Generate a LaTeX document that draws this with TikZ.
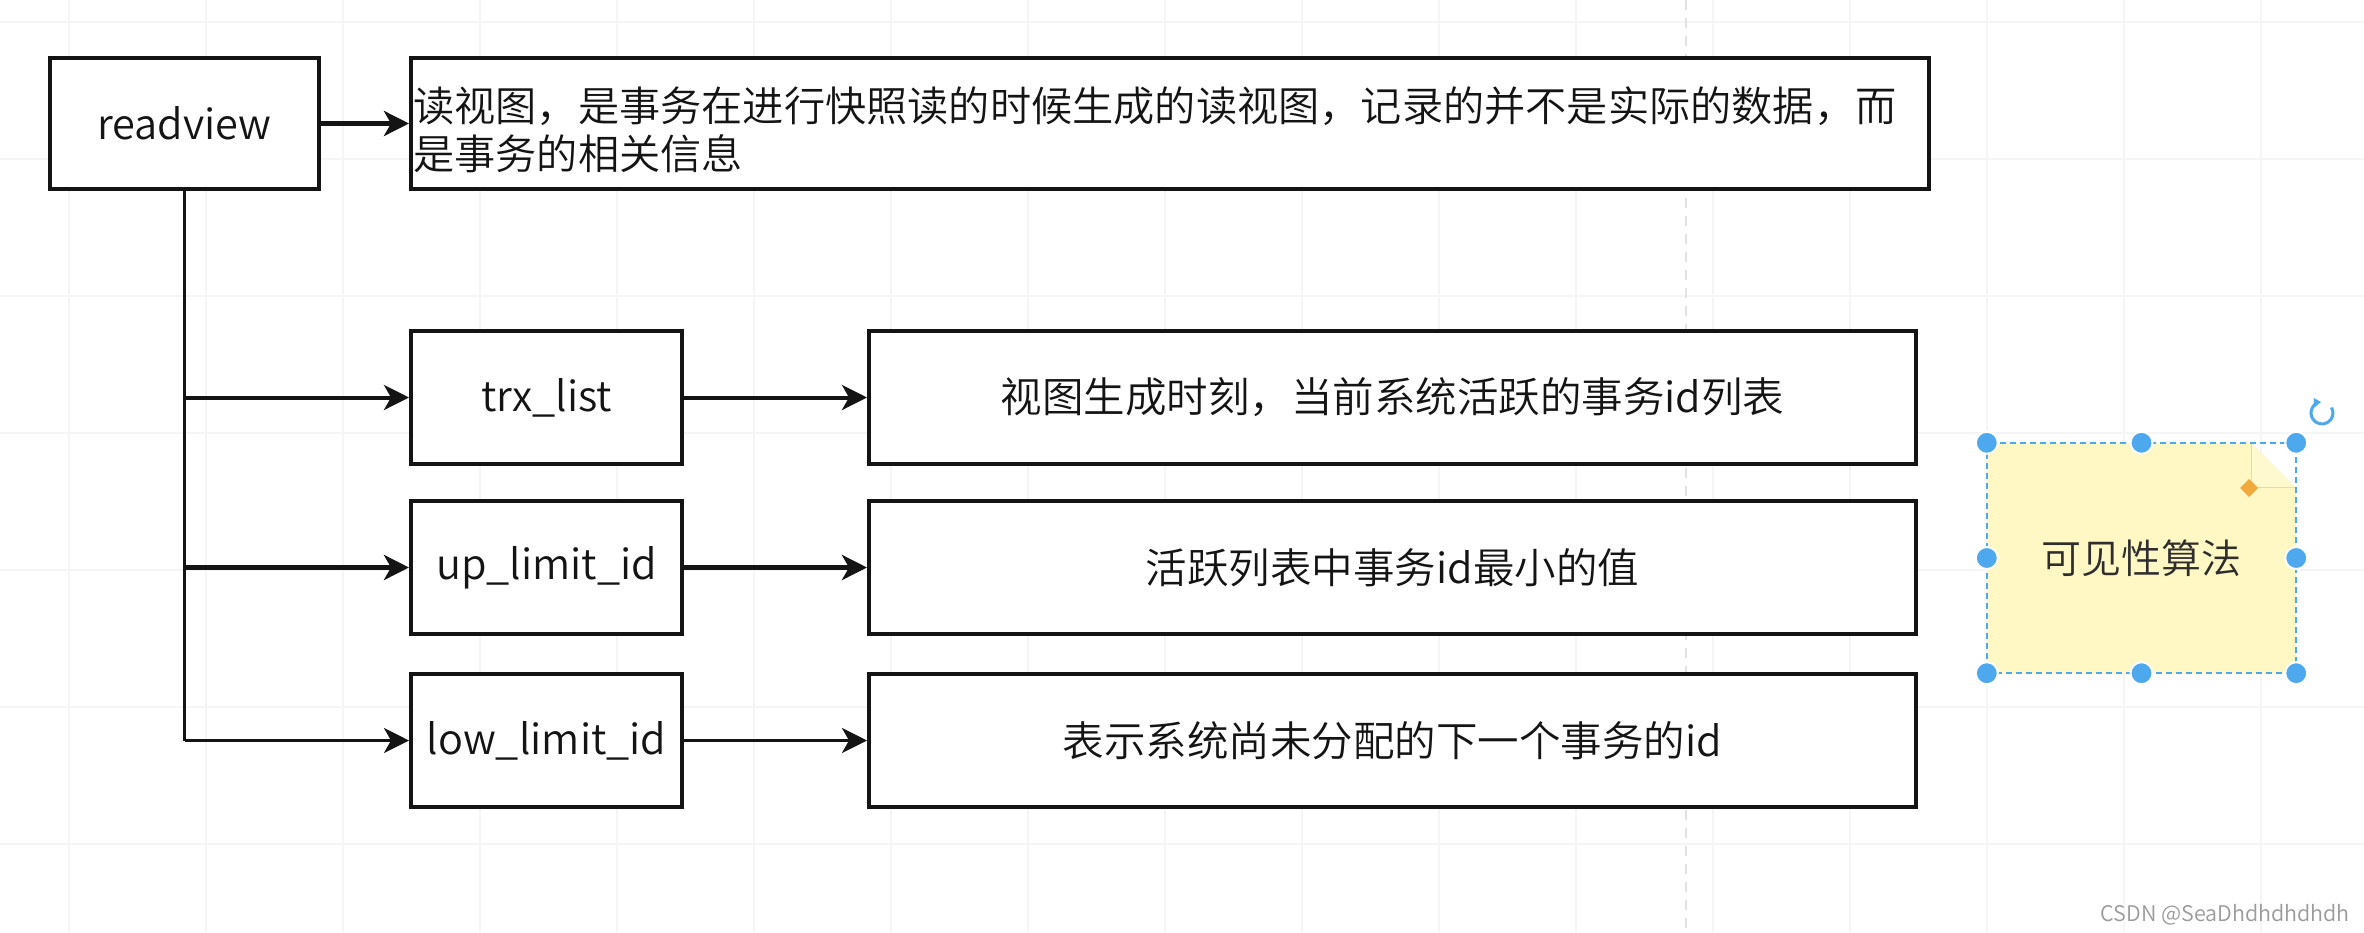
\documentclass[tikz,border=0pt]{standalone}
\usepackage{fontspec}
\setmainfont{Noto Sans CJK SC}[UprightFont={* DemiLight}]
\usetikzlibrary{arrows.meta,shapes.geometric}
\definecolor{ink}{HTML}{141414}
\definecolor{notefill}{HTML}{FFF7C4}
\definecolor{foldline}{HTML}{E9DC96}
\definecolor{selblue}{HTML}{4DA8EE}
\definecolor{handleorange}{HTML}{F2A93B}
\definecolor{gridc}{HTML}{F5F5F5}
\definecolor{guidec}{HTML}{E2E2E2}
\definecolor{marktext}{HTML}{9A9A9A}
\begin{document}
\begin{tikzpicture}[x=1pt,y=-1pt,
  box/.style={draw=ink, line width=4pt, fill=white, inner sep=0pt,
    font=\fontsize{41.5}{48}\selectfont, text=ink},
  leftbox/.style={box, minimum width=271pt, minimum height=133pt},
  rightbox/.style={box, minimum width=1047pt, minimum height=133pt},
  conn/.style={draw=ink, line width=4pt, -{Stealth[length=25pt,width=25pt,inset=7pt]}},
  trunk/.style={draw=ink, line width=3pt},
  handledot/.style={circle, fill=selblue, draw=white, line width=2pt, minimum size=22pt, inner sep=0pt}
]
% canvas
\useasboundingbox (0,0) rectangle (2364,932);
\fill[white] (0,0) rectangle (2364,932);
% faint editor grid
\foreach \gx in {69,206,343,480,617,754,891,1028,1165,1302,1439,1576,1713,1850,1987,2124,2261}
  \draw[gridc, line width=1.2pt] (\gx,0) -- (\gx,932);
\foreach \gy in {22,159,296,433,570,707,844}
  \draw[gridc, line width=1.2pt] (0,\gy) -- (2364,\gy);
\draw[guidec, line width=1.2pt, dash pattern=on 10pt off 8pt] (1686,0) -- (1686,932);

% boxes
\node[box, minimum width=269pt, minimum height=131pt] (rv) at (184.5,123.5) {readview};
\node[box, minimum width=1518pt, minimum height=131pt] (desc) at (1170,123.5) {};
\node[anchor=west, inner sep=0pt, align=left, text=ink,
      font=\fontsize{41.2}{48.5}\selectfont] (desctext) at (413,130)
  {读视图，是事务在进行快照读的时候生成的读视图，记录的并不是实际的数据，而\\是事务的相关信息};

\node[leftbox] (trx) at (546.5,397.5) {trx\_list};
\node[leftbox] (up)  at (546.5,567.5) {up\_limit\_id};
\node[leftbox] (low) at (546.5,740.5) {low\_limit\_id};

\node[rightbox] (trxd) at (1392.5,397.5) {视图生成时刻，当前系统活跃的事务id列表};
\node[rightbox] (upd)  at (1392.5,567.5) {活跃列表中事务id最小的值};
\node[rightbox] (lowd) at (1392.5,740.5) {表示系统尚未分配的下一个事务的id};

% connectors
\draw[conn, line width=5pt] (rv.east) -- (desc.west);
\draw[trunk] (rv.south) -- (rv.south |- low.west);
\draw[conn] (rv.south |- trx.west) -- (trx.west);
\draw[conn, line width=4.5pt] (rv.south |- up.west) -- (up.west);
\draw[conn, line width=3pt] (rv.south |- low.west) -- (low.west);
\draw[conn] (trx.east) -- (trxd.west);
\draw[conn, line width=4.5pt] (up.east) -- (upd.west);
\draw[conn, line width=3pt] (low.east) -- (lowd.west);

% sticky note (selected)
\node[minimum width=309pt, minimum height=230pt, inner sep=0pt] (note) at (2141.5,558) {};
\fill[notefill] (note.north west) -- ([xshift=-45pt]note.north east)
   -- ([yshift=-45pt]note.north east) -- (note.south east) -- (note.south west) -- cycle;
\fill[notefill!80!white] ([xshift=-45pt]note.north east) -- ([xshift=-45pt,yshift=-45pt]note.north east)
   -- ([yshift=-45pt]note.north east) -- cycle;
\draw[foldline, line width=1.2pt] ([xshift=-45pt]note.north east) -- ([xshift=-45pt,yshift=-45pt]note.north east)
   -- ([yshift=-45pt]note.north east);
\node[font=\fontsize{40}{44}\selectfont, text=black!82] (notetext) at (note.center) {可见性算法};
\draw[selblue, line width=2pt, dash pattern=on 6pt off 4pt] (note.north west) rectangle (note.south east);
\foreach \a in {north west,north,north east,west,east,south west,south,south east}
  \node[handledot] at (note.\a) {};
\fill[handleorange] (2249,479) -- (2258,488) -- (2249,497) -- (2240,488) -- cycle;
\draw[selblue, line width=3pt, -{Triangle[length=7pt,width=9pt]}] (2322,413) ++(-30:11) arc (-30:265:11);

% watermark
\node[anchor=east, inner sep=0pt, font=\fontsize{21.5}{22}\selectfont, text=marktext] (mark) at (2350,915) {CSDN @SeaDhdhdhdhdh};
\end{tikzpicture}
\end{document}
